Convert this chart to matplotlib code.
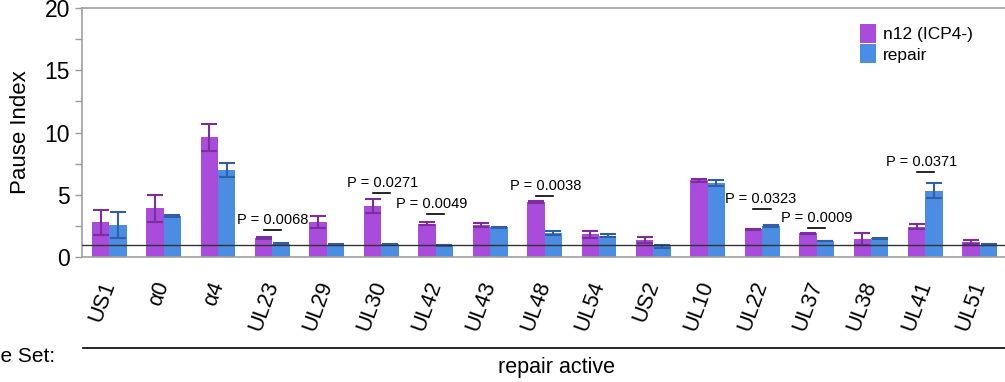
import matplotlib
matplotlib.use("Agg")
import matplotlib.pyplot as plt
import numpy as np
from matplotlib.lines import Line2D

plt.rcParams['font.family'] = ['Liberation Sans', 'DejaVu Sans']

genes = ["US1", "α0", "α4", "UL23", "UL29", "UL30", "UL42", "UL43", "UL48",
         "UL54", "US2", "UL10", "UL22", "UL37", "UL38", "UL41", "UL51"]
n12_vals = [2.8, 3.9, 9.6, 1.53, 2.8, 4.1, 2.68, 2.57, 4.42, 1.82, 1.34, 6.16, 2.22, 1.9, 1.45, 2.44, 1.18]
n12_err = [1.0, 1.1, 1.1, 0.05, 0.5, 0.55, 0.12, 0.15, 0.05, 0.3, 0.25, 0.1, 0.04, 0.05, 0.45, 0.2, 0.15]
repair_vals = [2.6, 3.3, 7.0, 1.07, 1.0, 1.02, 0.93, 2.38, 1.9, 1.71, 0.85, 5.92, 2.49, 1.29, 1.5, 5.33, 1.0]
repair_err = [1.05, 0.05, 0.55, 0.03, 0.02, 0.04, 0.03, 0.05, 0.17, 0.12, 0.15, 0.25, 0.05, 0.03, 0.03, 0.6, 0.02]

p_idx = [3, 5, 6, 8, 12, 13, 15]
p_text = ["P = 0.0068", "P = 0.0271", "P = 0.0049", "P = 0.0038", "P = 0.0323", "P = 0.0009", "P = 0.0371"]
p_line_y = [2.17, 5.14, 3.43, 4.9, 3.86, 2.33, 6.8]
p_text_dx = [0.0, 0.02, -0.08, 0.02, -0.03, 0.01, -0.07]

purple = "#A94BDB"
blue = "#4A8DE2"
purple_dark = "#7B2E9E"
blue_dark = "#2F5FA8"

fig = plt.figure(figsize=(10.05, 3.82), dpi=100)
ax = fig.add_axes([82 / 1005, 1 - 257 / 382, 925 / 1005, 249 / 382])

x = np.arange(len(genes))
w = 0.32
ax.bar(x - w / 2, n12_vals, w, color=purple, label="n12 (ICP4-)", zorder=2)
ax.bar(x + w / 2, repair_vals, w, color=blue, label="repair", zorder=2)
ax.errorbar(x - w / 2, n12_vals, yerr=n12_err, fmt="none", ecolor=purple_dark,
            elinewidth=1.5, capsize=5.5, capthick=1.5, zorder=3)
ax.errorbar(x + w / 2, repair_vals, yerr=repair_err, fmt="none", ecolor=blue_dark,
            elinewidth=1.5, capsize=5.5, capthick=1.5, zorder=3)

ax.axhline(1, color="#333333", lw=1.0, zorder=4)

for i, t, ly, dx in zip(p_idx, p_text, p_line_y, p_text_dx):
    ax.plot([i - w / 2, i + w / 2], [ly, ly], color="black", lw=1.2, zorder=4)
    ax.text(i + dx, ly + 0.25, t, ha="center", va="bottom", fontsize=10.5, zorder=5)

ax.set_xlim(-0.5, len(genes) - 0.5)
ax.set_ylim(0, 20)
ax.set_yticks([0, 5, 10, 15, 20])
ax.set_yticks([2.5, 7.5, 12.5, 17.5], minor=True)
ax.tick_params(axis="y", which="both", labelsize=16.5, color="#999999", length=5, width=1)
ax.tick_params(axis="y", which="minor", length=5)
ax.set_ylabel("Pause Index", fontsize=16, labelpad=10)
ax.set_xticks(x)
ax.set_xticklabels(genes, rotation=70, ha="right", va="center",
                   rotation_mode="anchor", fontsize=15.5)
ax.tick_params(axis="x", length=0, pad=18)

for s in ["left", "top", "bottom"]:
    ax.spines[s].set_color("#A0A0A0")
    ax.spines[s].set_linewidth(1.2)
ax.spines["right"].set_visible(False)

ax.legend(loc="upper right", bbox_to_anchor=(0.98, 1.0), frameon=False,
          fontsize=12.5, handlelength=0.95, handleheight=1.3, handletextpad=0.4,
          labelspacing=0.1)

fig.add_artist(Line2D([83 / 1005, 1.0], [1 - 348 / 382, 1 - 348 / 382],
                      color="black", lw=1.2))
fig.text(556 / 1005, 1 - 368 / 382, "repair active", ha="center", va="center", fontsize=15.5)
fig.text(55 / 1005, 1 - 357 / 382, "Gene Set:", ha="right", va="center", fontsize=15)

fig.savefig("out.png", dpi=100)
